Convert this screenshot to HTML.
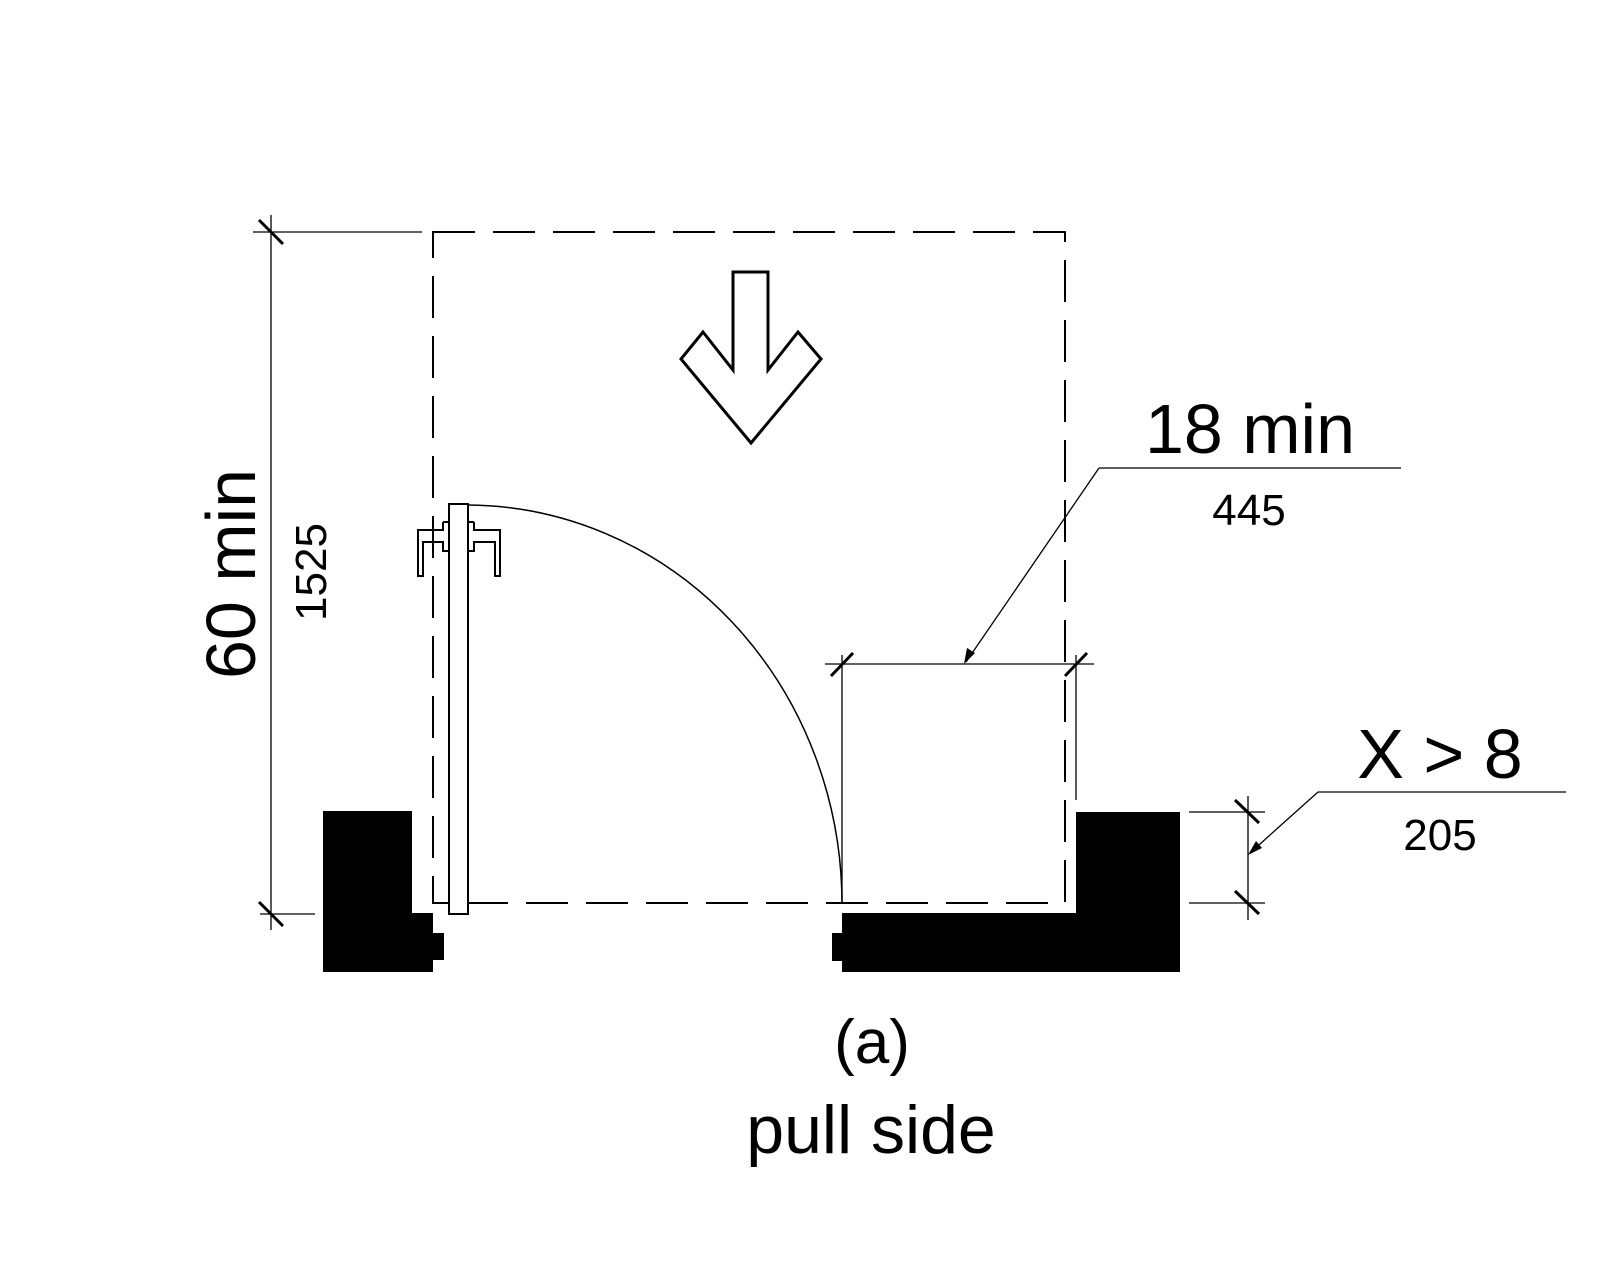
<!DOCTYPE html>
<html><head><meta charset="utf-8"><style>body{margin:0;background:#fff}svg{display:block}</style></head><body>
<svg width="1600" height="1280" viewBox="0 0 1600 1280" xmlns="http://www.w3.org/2000/svg" font-family="Liberation Sans, Arial, sans-serif">
<rect width="1600" height="1280" fill="#fff"/>
<!-- dashed clear floor -->
<path d="M433,232 H1065 V903 H433 Z" fill="none" stroke="#000" stroke-width="2" stroke-dasharray="42,18"/>
<!-- walls -->
<path d="M323,811 H412 V913 H433 V972 H323 Z" fill="#000"/>
<rect x="433" y="933" width="11" height="27" fill="#000"/>
<path d="M1076,812 H1180 V972 H842 V913 H1076 Z" fill="#000"/>
<rect x="832" y="933" width="12" height="28" fill="#000"/>
<!-- door leaf -->
<rect x="449" y="504" width="19" height="410" fill="#fff" stroke="#000" stroke-width="2"/>
<path d="M443,522 V530 H418 V576 H423 V542 H443 V551 H449 M443,522 H449" fill="none" stroke="#000" stroke-width="2"/>
<path d="M474,522 V530 H500 V576 H495 V542 H474 V551 H468 M474,522 H468" fill="none" stroke="#000" stroke-width="2"/>
<!-- arc -->
<path d="M468,505 A 376 399 0 0 1 842,903" fill="none" stroke="#000" stroke-width="1.5"/>
<!-- arrow -->
<path d="M733,272 H768 V370 L798,332 L821,359 L751,443 L681,359 L703,332 L733,370 Z" fill="none" stroke="#000" stroke-width="3"/>
<!-- 60 min dim -->
<g stroke="#000" stroke-width="1.3">
<line x1="271" y1="215" x2="271" y2="930"/>
<line x1="253" y1="232" x2="422" y2="232"/>
<line x1="260" y1="914" x2="315" y2="914"/>
</g>
<g stroke="#000" stroke-width="3">
<line x1="259" y1="220" x2="283" y2="244"/>
<line x1="259" y1="902" x2="283" y2="926"/>
</g>
<text transform="translate(255,574) rotate(-90)" font-size="70" text-anchor="middle">60 min</text>
<text transform="translate(326,572) rotate(-90)" font-size="44" text-anchor="middle">1525</text>
<!-- 18 min dim -->
<g stroke="#000" stroke-width="1.3">
<line x1="842" y1="655" x2="842" y2="903"/>
<line x1="1076" y1="655" x2="1076" y2="800"/>
<line x1="825" y1="664" x2="1094" y2="664"/>
<line x1="1099" y1="468" x2="1401" y2="468"/>
<line x1="1099" y1="468" x2="966" y2="662"/>
</g>
<polygon points="964,664 967,648 975,653" fill="#000"/>
<g stroke="#000" stroke-width="3">
<line x1="831" y1="676" x2="853" y2="653"/>
<line x1="1065" y1="676" x2="1087" y2="653"/>
</g>
<text x="1250" y="453" font-size="70" text-anchor="middle">18 min</text>
<text x="1249" y="525" font-size="44" text-anchor="middle">445</text>
<!-- X > 8 dim -->
<g stroke="#000" stroke-width="1.3">
<line x1="1189" y1="812" x2="1265" y2="812"/>
<line x1="1189" y1="903" x2="1265" y2="903"/>
<line x1="1248" y1="796" x2="1248" y2="920"/>
<line x1="1318" y1="792" x2="1566" y2="792"/>
<line x1="1318" y1="792" x2="1250" y2="853"/>
</g>
<polygon points="1248,855 1256,841 1262,848" fill="#000"/>
<g stroke="#000" stroke-width="3">
<line x1="1235" y1="800" x2="1259" y2="823"/>
<line x1="1235" y1="891" x2="1259" y2="914"/>
</g>
<text x="1440" y="778" font-size="70" text-anchor="middle">X &gt; 8</text>
<text x="1440" y="850" font-size="44" text-anchor="middle">205</text>
<!-- caption -->
<text x="872" y="1063" font-size="62" text-anchor="middle">(a)</text>
<text x="871" y="1153" font-size="68" text-anchor="middle">pull side</text>
</svg>
</body></html>
